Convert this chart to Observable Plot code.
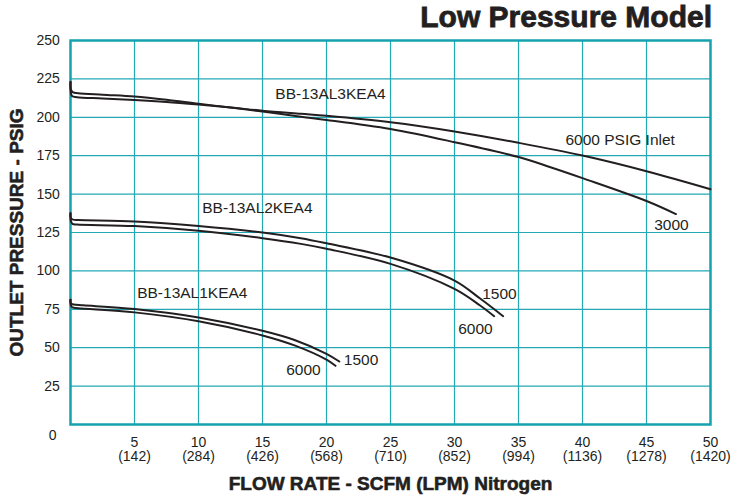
<!DOCTYPE html>
<html><head><meta charset="utf-8">
<script src="https://cdn.jsdelivr.net/npm/d3@7"></script>
<script src="https://cdn.jsdelivr.net/npm/@observablehq/plot@0.6"></script>
<style>
body{margin:0;background:#fff;width:745px;height:496px;overflow:hidden;font-family:"Liberation Sans",Arial,sans-serif}
#title{height:32px;font:bold 30px/34px "Liberation Sans",Arial,sans-serif;text-align:right;padding-right:33px;color:#231f20;-webkit-text-stroke:0.8px #231f20;white-space:nowrap}
#chart svg{display:block}
</style></head>
<body>
<div id="title">Low Pressure Model</div>
<div id="chart"></div>
<script>
// ---- data ----
const xTicks = [5, 10, 15, 20, 25, 30, 35, 40, 45, 50];
const lpmLabels = ["142", "284", "426", "568", "710", "852", "994", "1136", "1278", "1420"];
const yTicks = [25, 50, 75, 100, 125, 150, 175, 200, 225, 250];
const zeroLabel = "0";
const xGrid = [5, 10, 15, 20, 25, 30, 35, 40, 45];
const yGrid = [25, 50, 75, 100, 125, 150, 175, 200, 225];

// BB-13AL3KEA4
const top3000X = [0, 0.03, 0.2, 0.6, 2.5, 5, 7.5, 10, 12.5, 15, 18, 20, 25, 30, 35, 37.5, 40, 45, 47.3];
const top3000Y = [223, 218, 216.2, 215.7, 214.7, 213.5, 211.4, 208.8, 206.4, 203.8, 200.3, 198.3, 192.4, 183.8, 174.1, 167.5, 160.4, 145.5, 137];
const top6000X = [0, 0.03, 0.12, 0.5, 2.5, 5, 7.5, 10, 12.5, 15, 18, 20, 25, 30, 35, 40, 45, 50];
const top6000Y = [223, 216, 213.8, 213.1, 212.3, 211.3, 210, 208.3, 206.4, 204.3, 202.3, 201, 196.8, 190.8, 183.4, 175.1, 164.9, 153.2];
// BB-13AL2KEA4
const mid1500X = [0, 0.03, 0.2, 0.6, 5, 10, 15, 18, 20, 25, 30, 32, 33.8];
const mid1500Y = [137.5, 134.3, 133.4, 133.1, 132.2, 129.3, 125, 121.3, 118, 108.7, 93.7, 82, 70.5];
const mid6000X = [0, 0.03, 0.15, 0.5, 5, 10, 15, 18, 20, 25, 30, 32, 33.1];
const mid6000Y = [137.5, 132.5, 130.6, 130.2, 129.2, 126.2, 121.3, 117.6, 114.4, 104.6, 88.3, 77.5, 70.5];
// BB-13AL1KEA4
const low1500X = [0, 0.03, 0.25, 1, 5, 10, 15, 17.5, 20, 21];
const low1500Y = [81.2, 78.8, 78.1, 77.6, 75.2, 69.7, 61, 55, 46, 41];
const low6000X = [0, 0.03, 0.15, 0.6, 5, 10, 15, 17.5, 20, 20.7];
const low6000Y = [81.2, 77.5, 76.2, 75.7, 73, 67.2, 58, 51.5, 42.2, 38.2];

const curveLabels = ["BB-13AL3KEA4", "6000 PSIG Inlet", "3000", "BB-13AL2KEA4", "1500", "6000", "BB-13AL1KEA4", "1500", "6000"];
const curveLabelX = [16.0, 38.67, 45.6, 10.29, 32.16, 30.29, 5.21, 21.35, 16.85];
const curveLabelY = [215, 185.1, 129.9, 141.2, 84.7, 62, 85.6, 41.9, 35.4];

const yTitle = "OUTLET PRESSURE - PSIG";
const xTitle = "FLOW RATE - SCFM (LPM) Nitrogen";

// ---- build ----
const ink = "#231f20";
const teal = "#22a9b4";
const pts = (xs, ys) => xs.map((x, i) => ({x, y: ys[i]}));
const series = [
  pts(top3000X, top3000Y), pts(top6000X, top6000Y),
  pts(mid1500X, mid1500Y), pts(mid6000X, mid6000Y),
  pts(low1500X, low1500Y), pts(low6000X, low6000Y)
];
const labelRows = curveLabels.map((t, i) => ({t, x: curveLabelX[i], y: curveLabelY[i]}));
const xTickRows = xTicks.map((v, i) => ({x: v, t: `${v}\n(${lpmLabels[i]})`}));

const chart = Plot.plot({
  width: 745,
  height: 464,
  marginTop: 8,
  marginRight: 35,
  marginBottom: 72,
  marginLeft: 70,
  style: {background: "white", fontFamily: "'Liberation Sans', Arial, sans-serif", overflow: "visible"},
  x: {domain: [0, 50], axis: null},
  y: {domain: [0, 250], axis: null},
  marks: [
    Plot.ruleX(xGrid, {x: d => d, stroke: teal, strokeWidth: 1.2}),
    Plot.ruleY(yGrid, {y: d => d, stroke: teal, strokeWidth: 1.2}),
    Plot.frame({stroke: "#15a2ae", strokeWidth: 2.5}),
    ...series.map(s => Plot.line(s, {x: "x", y: "y", curve: "catmull-rom", stroke: ink, strokeWidth: 2})),
    Plot.text(labelRows, {x: "x", y: "y", text: "t", textAnchor: "start", lineAnchor: "middle", fontSize: 15.5, fill: ink}),
    Plot.text(yTicks, {y: d => d, text: d => String(d), frameAnchor: "left", textAnchor: "end", lineAnchor: "middle", dx: -10.7, fontSize: 14, fill: ink}),
    Plot.text([zeroLabel], {x: () => 0, y: () => 0, text: d => d, textAnchor: "end", lineAnchor: "middle", dx: -14, dy: 10.7, fontSize: 14, fill: ink}),
    Plot.text(xTickRows, {x: "x", text: "t", frameAnchor: "bottom", textAnchor: "middle", lineAnchor: "top", dy: 11.8, lineHeight: 1.05, fontSize: 14, fill: ink}),
    Plot.text([yTitle], {text: d => d, frameAnchor: "left", textAnchor: "middle", lineAnchor: "middle", rotate: -90, dx: -53.3, fontSize: 19, fontWeight: "bold", fill: ink, stroke: ink, strokeWidth: 0.6}),
    Plot.text([xTitle], {text: d => d, frameAnchor: "bottom", textAnchor: "middle", lineAnchor: "middle", dy: 59, fontSize: 19, fontWeight: "bold", fill: ink, stroke: ink, strokeWidth: 0.6})
  ]
});
document.getElementById("chart").appendChild(chart);
</script>
</body></html>
